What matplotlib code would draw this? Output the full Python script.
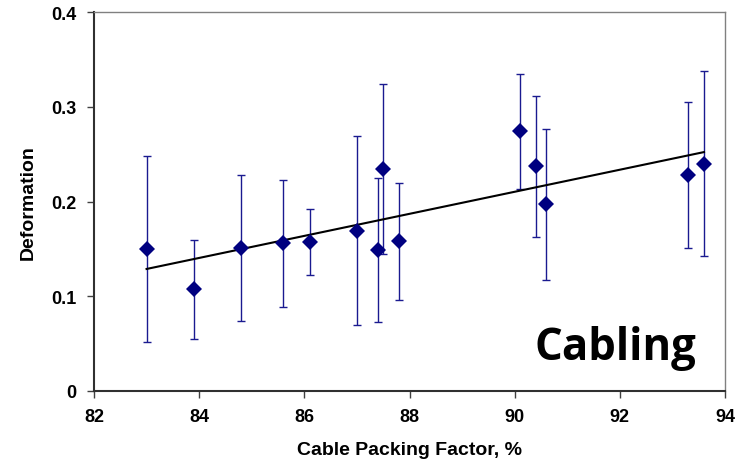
import numpy as np
import matplotlib
matplotlib.use("Agg")
import matplotlib.pyplot as plt

# Data
packing = [83.0, 83.9, 84.8, 85.6, 86.1, 87.0, 87.4, 87.5, 87.8, 90.1, 90.4, 90.6, 93.3, 93.6]
deform = [0.150, 0.107, 0.151, 0.156, 0.157, 0.169, 0.149, 0.234, 0.158, 0.274, 0.237, 0.197, 0.228, 0.240]
deform_err = [0.098, 0.052, 0.077, 0.067, 0.035, 0.100, 0.076, 0.090, 0.062, 0.061, 0.074, 0.080, 0.077, 0.098]
x_ticks = [82, 84, 86, 88, 90, 92, 94]
y_ticks = [0, 0.1, 0.2, 0.3, 0.4]
y_tick_labels = ["0", "0.1", "0.2", "0.3", "0.4"]

plt.rcParams['font.family'] = ['Liberation Sans', 'DejaVu Sans']
plt.rcParams['font.weight'] = 'bold'

fig = plt.figure(figsize=(7.39, 4.60), dpi=100)
ax = fig.add_axes([94/739, (460-391.7)/460, (725-94)/739, (391.7-13.3)/460])

ax.errorbar(packing, deform, yerr=deform_err, fmt='none', ecolor='#1a1a90',
            elinewidth=1.0, capsize=3, capthick=1.0, zorder=2)

# linear trend line fitted to the data
coef = np.polyfit(packing, deform, 1)
tx = np.array([min(packing), max(packing)])
ax.plot(tx, np.polyval(coef, tx), color='black', lw=1.5, zorder=3)

ax.plot(packing, deform, linestyle='none', marker='D', ms=8.2,
        color='#000080', markeredgewidth=0, zorder=4)

ax.set_xlim(82, 94)
ax.set_ylim(0, 0.4)
ax.set_xticks(x_ticks)
ax.set_xticklabels([str(v) for v in x_ticks], fontweight='bold', fontsize=13)
ax.set_yticks(y_ticks)
ax.set_yticklabels(y_tick_labels, fontweight='bold', fontsize=13)
ax.tick_params(axis='both', direction='out', length=4.7, width=1.0, color='#404040')
ax.tick_params(axis='x', pad=8)
ax.tick_params(axis='y', pad=8)

for s in ['left', 'bottom']:
    ax.spines[s].set_color('#303030')
    ax.spines[s].set_linewidth(1.5)
for s in ['top', 'right']:
    ax.spines[s].set_color('#808080')
    ax.spines[s].set_linewidth(1.0)

ax.set_xlabel('Cable Packing Factor, %', fontsize=14, fontweight='bold', labelpad=11)
ax.set_ylabel('Deformation', fontsize=14, fontweight='bold', labelpad=10)

ax.text(0.954, 0.084, 'Cabling', transform=ax.transAxes, ha='right', va='baseline',
        fontsize=31.5, fontweight='bold', family=['Open Sans', 'DejaVu Sans'])

fig.savefig('out.png', dpi=100)
